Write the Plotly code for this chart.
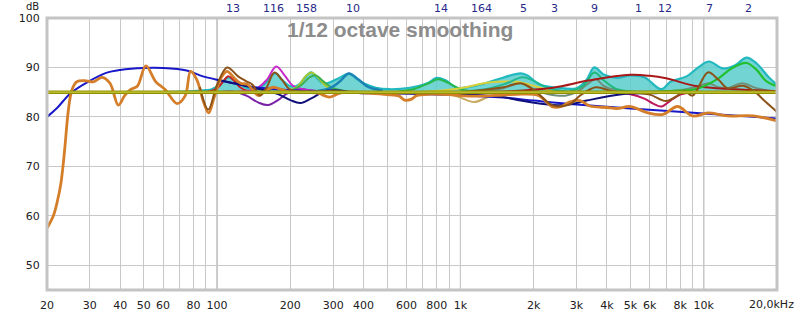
import plotly.graph_objects as go
import math

# ---------------- data ----------------
# measured response
meas_f = [20, 21.2, 22, 22.8, 23.3, 23.7, 24.5, 25.3, 26.5, 29, 31, 33.7, 36.3, 39.3, 41.7, 44.3, 47,
          51, 56, 61, 68.5, 74, 77.8, 82.6, 88, 92.3, 96.9, 100.6, 105, 110, 118, 125, 133, 140, 148,
          158, 170, 185, 200, 230, 260, 290, 320, 360, 420, 500, 560, 590, 630, 660, 750, 900, 1000,
          1200, 1500, 1800, 2100, 2400, 2600, 2800, 3100, 3400, 4000, 4400, 5000, 5900, 6800, 7800,
          9000, 10400, 12500, 16000, 20000]
meas_db = [57.5, 59.9, 62.7, 66.5, 70.3, 74.0, 81.5, 85.4, 87.1, 87.3, 87.1, 88.0, 86.8, 82.4, 84.3, 85.6, 86.2,
           90.3, 87.1, 85.6, 82.7, 84.3, 89.2, 87.5, 83.0, 80.8, 83.7, 86.2, 88.3, 89.2, 87.8, 86.8, 86.6, 85.5, 84.3,
           85.3, 86.0, 85.5, 85.0, 85.0, 84.8, 84.0, 84.8, 85.0, 84.8, 84.5, 84.2, 83.4, 83.6, 84.3, 84.6, 84.5, 84.3,
           84.2, 84.4, 84.6, 84.3, 82.0, 82.1, 83.0, 83.3, 82.2, 81.9, 81.7, 82.1, 80.8, 80.5, 82.1,
           80.2, 80.8, 80.2, 80.2, 79.2]

# predicted response
pred_f = [85, 92, 100, 110, 122, 132, 140, 150, 160, 172, 185, 200, 300, 600, 1000, 1500, 1770, 2000,
          2400, 2800, 3100, 3600, 4200, 5000, 6000, 7000, 7800, 8300, 9000, 10400, 11500, 12500,
          14500, 16000, 18000, 20000]
pred_db = [86.0, 81.5, 86.5, 90.0, 88.2, 87.2, 86.5, 84.3, 86.0, 89.0, 87.5, 85.5, 85.2, 84.8, 85.0, 86.0, 86.8, 85.5,
           82.3, 82.5, 84.3, 86.0, 85.2, 85.0, 84.5, 83.2, 84.3, 85.2, 84.3, 89.0, 87.5, 85.8,
           86.3, 85.3, 83.0, 81.0]

# house curve
house_f = [20, 22, 25, 30, 35, 40, 50, 60, 75, 85, 100, 125, 150, 200, 300, 500, 1000, 1500, 2000,
           3000, 5000, 10000, 20000]
house_db = [80.0, 81.8, 84.8, 87.3, 88.9, 89.5, 89.9, 89.9, 89.4, 88.4, 87.5, 86.5, 85.9, 85.4, 85.0, 84.8,
            84.4, 83.9, 83.3, 82.5, 81.7, 80.7, 79.7]

# filter-corrected house curve
corr_f = [100, 125, 150, 180, 200, 220, 245, 283, 400, 600, 1000, 1500, 1770, 2400, 2800, 3300, 4600,
          6300, 9000, 20000]
corr_db = [87.5, 86.5, 85.6, 84.5, 83.4, 82.8, 83.8, 85.3, 84.8, 84.9, 84.6, 84.0, 83.3, 82.4, 82.5, 83.3,
           84.6, 84.8, 85.0, 85.0]

# target level
target_level = 85.0
freq_min, freq_max = 20, 20000

# combined filter response
filt_f = [60, 80, 90, 95, 103, 111, 120, 132, 145, 158, 168, 175, 185, 200, 215, 230, 243, 258, 270,
          283, 310, 348, 380, 400, 450, 510, 620, 730, 800, 870, 970, 1200, 1400, 1770, 1900, 2100,
          2500, 3000, 3300, 3550, 3900, 4400, 5000, 5700, 6700, 7300, 8500, 9500, 10500, 12000,
          13500, 15000, 16500, 18500, 20000]
filt_db = [85.0, 85.2, 85.4, 85.6, 86.5, 88.0, 87.2, 85.9, 85.6, 86.8, 88.5, 88.8, 87.5, 86.2, 86.4, 88.0, 89.0, 87.8, 86.9,
           86.8, 87.6, 88.7, 87.5, 86.8, 85.9, 85.6, 85.9, 86.8, 87.9, 87.4, 85.9, 86.5, 87.5, 88.8, 88.3, 86.6,
           85.9, 85.8, 87.5, 90.0, 88.5, 87.9, 88.4, 88.0, 85.6, 87.1, 88.2, 90.0, 91.2, 89.8,
           90.5, 92.0, 90.8, 88.0, 86.5]

# individual filters
f13_f = [90, 100, 106, 111, 117, 125, 135, 150]
f13_db = [85.0, 85.8, 87.2, 88.2, 87.4, 85.9, 85.2, 85.0]
f11_f = [120, 145, 160, 175, 190, 205, 230, 270]
f11_db = [85.1, 85.7, 87.5, 90.2, 88.3, 86.3, 85.5, 85.2]
f6_f = [100, 118, 132, 148, 162, 178, 195, 215, 240, 280]
f6_db = [85.0, 85.1, 84.3, 82.9, 82.4, 83.4, 84.8, 85.7, 85.4, 85.1]
f15_f = [190, 215, 232, 245, 260, 285, 320]
f15_db = [85.1, 86.2, 88.3, 89.0, 87.9, 86.0, 85.3]
f8_f = [195, 220, 240, 255, 270, 300, 340]
f8_db = [85.1, 86.3, 88.0, 88.4, 87.4, 85.8, 85.2]
f10_f = [250, 290, 320, 348, 380, 420, 480]
f10_db = [85.1, 85.8, 87.2, 88.8, 87.6, 86.0, 85.3]
f14_f = [550, 650, 740, 810, 880, 1000, 1150]
f14_db = [85.1, 85.7, 86.8, 87.6, 87.0, 85.6, 85.1]
f16_f = [700, 900, 1050, 1250, 1400, 1700, 2000, 2400, 2800]
f16_db = [85.1, 85.5, 86.0, 86.8, 87.1, 87.1, 86.3, 85.2, 85.0]
f4_f = [700, 900, 1000, 1140, 1280, 1450, 1800]
f4_db = [85.0, 84.6, 83.9, 83.0, 83.9, 84.8, 85.0]
f5_f = [1000, 1300, 1550, 1800, 2000, 2300, 2800]
f5_db = [85.1, 85.7, 86.8, 88.0, 87.3, 85.8, 85.1]
f9_f = [2800, 3200, 3550, 3900, 4400, 5200]
f9_db = [85.1, 86.3, 89.0, 87.3, 85.6, 85.1]
f1_f = [1000, 1600, 2400, 3400, 5000, 6000, 7000, 9400, 13400, 20000]
f1_db = [85.0, 85.2, 85.9, 87.4, 88.5, 88.3, 87.8, 86.2, 85.6, 85.2]
f12_f = [4000, 5000, 5700, 6200, 6700, 7300, 8000, 8800]
f12_db = [85.0, 84.6, 83.7, 82.7, 82.1, 83.3, 84.5, 85.0]
f2_f = [6000, 8000, 9400, 11500, 13000, 15000, 16500, 18000, 20000]
f2_db = [85.0, 85.3, 85.7, 87.8, 89.8, 90.9, 89.5, 87.3, 86.2]
resid_f = [1200, 1500, 1770, 2000, 2300, 2700, 3000, 3300, 3600, 3900, 4500, 8000, 9500, 10400,
           11500, 12500, 14400, 16500, 20000]
resid_db = [85.0, 85.8, 86.8, 85.5, 84.6, 84.3, 85.0, 86.5, 87.6, 86.2, 85.3, 85.4, 86.2, 86.8,
            86.0, 85.8, 86.8, 85.8, 85.0]

# tick labels
y_ticks = [50, 60, 70, 80, 90, 100]
x_ticks = [20, 30, 40, 50, 60, 80, 100, 200, 300, 400, 600, 800, 1000, 2000, 3000, 4000, 5000, 6000, 8000, 10000]
x_tick_text = ["20", "30", "40", "50", "60", "80", "100", "200", "300", "400", "600", "800", "1k",
               "2k", "3k", "4k", "5k", "6k", "8k", "10k"]
x_minor = [70, 90, 500, 700, 900, 7000, 9000]
decades = [100, 1000, 10000]

# filter numbers shown along the top
filter_labels = ["13", "116", "158", "10", "14", "164", "5", "3", "9", "1", "12", "7", "2"]
filter_label_f = [116.5, 170, 233, 363, 836, 1222, 1819, 2440, 3566, 5408, 6920, 10600, 15200]

title_text = "1/12 octave smoothing"

# ---------------- figure ----------------
fig = go.Figure()


def add_line(xs, ys, color, width=2.0, smoothing=1.0, **kw):
    fig.add_trace(go.Scatter(x=xs, y=ys, mode="lines",
                             line=dict(color=color, width=width, shape="spline", smoothing=smoothing),
                             hoverinfo="skip", showlegend=False, **kw))


# filled combined filter response above the target level
fig.add_trace(go.Scatter(x=[filt_f[0], filt_f[-1]], y=[target_level, target_level], mode="lines",
                         line=dict(width=0, color="rgba(0,0,0,0)"), hoverinfo="skip", showlegend=False))
add_line(filt_f, filt_db, "#22b8c0", 2.2, fill="tonexty", fillcolor="rgba(90,205,205,0.85)")

# individual filters
add_line(resid_f, resid_db, "#6f8f7a", 2.0)
add_line(f13_f, f13_db, "#c81e28", 2.0)
add_line(f6_f, f6_db, "#7a22a8", 2.0)
add_line(f11_f, f11_db, "#c828c8", 2.0)
add_line(f15_f, f15_db, "#a8c830", 2.0)
add_line(f8_f, f8_db, "#3cb050", 2.0)
add_line(f10_f, f10_db, "#1a84b4", 2.5)
add_line(f14_f, f14_db, "#28b848", 2.0)
add_line(f16_f, f16_db, "#d8d038", 2.0)
add_line(f4_f, f4_db, "#c8aa60", 2.0)
add_line(f5_f, f5_db, "#22b890", 2.0)
add_line(f9_f, f9_db, "#20b878", 2.0)
add_line(f1_f, f1_db, "#a81818", 2.0)
add_line(f12_f, f12_db, "#c0185c", 2.0)
add_line(f2_f, f2_db, "#22c030", 2.2)

# house curves
add_line(house_f, house_db, "#1818c8", 2.0)
add_line(corr_f, corr_db, "#10107a", 2.0)

# measurement and prediction
add_line(meas_f, meas_db, "#d47e2a", 2.8)
add_line(pred_f, pred_db, "#8c5218", 2.0)

# target level line
fig.add_trace(go.Scatter(x=[freq_min, freq_max], y=[target_level, target_level], mode="lines",
                         line=dict(color="#8f8f00", width=3.5), hoverinfo="skip", showlegend=False))
fig.add_trace(go.Scatter(x=[freq_min, freq_max], y=[target_level, target_level], mode="lines",
                         line=dict(color="#c8c83c", width=1.2), hoverinfo="skip", showlegend=False))

tick_font = dict(family="DejaVu Sans", size=11, color="#202020")

fig.update_xaxes(type="log", range=[math.log10(freq_min), math.log10(freq_max)],
                 tickvals=x_ticks, ticktext=x_tick_text, tickfont=tick_font,
                 ticks="outside", ticklen=5, tickcolor="rgba(0,0,0,0)",
                 showgrid=True, gridcolor="#c8c8c8", gridwidth=1, zeroline=False,
                 minor=dict(tickvals=x_minor, showgrid=True, gridcolor="#c8c8c8", gridwidth=1, ticks=""),
                 showline=False)
fig.update_yaxes(range=[45, 100], tickvals=y_ticks, tickfont=tick_font,
                 ticks="outside", ticklen=4, tickcolor="rgba(0,0,0,0)",
                 showgrid=True, gridcolor="#c8c8c8", gridwidth=1, zeroline=False, showline=False)

shapes = []
for d in decades:
    shapes.append(dict(type="line", xref="x", yref="paper", x0=d, x1=d, y0=0, y1=1,
                       line=dict(color="#8a8a8a", width=1), layer="below"))
shapes.append(dict(type="rect", xref="paper", yref="paper", x0=0, x1=1, y0=0, y1=1,
                   line=dict(color="#c4c4c4", width=3), layer="above"))

annotations = []
for lab, f in zip(filter_labels, filter_label_f):
    annotations.append(dict(x=math.log10(f), y=1, xref="x", yref="paper", text=lab, showarrow=False,
                            yanchor="middle", yshift=10,
                            font=dict(family="DejaVu Sans", size=11, color="#282888")))
annotations.append(dict(x=math.log10(freq_max), y=0, xref="x", yref="paper", text="20,0kHz",
                        showarrow=False, yanchor="top", xanchor="center", xshift=-6, yshift=-6,
                        font=tick_font))
annotations.append(dict(x=0, y=1, xref="paper", yref="paper", text="dB", showarrow=False,
                        xanchor="center", yanchor="middle", xshift=-15, yshift=12,
                        font=dict(family="DejaVu Sans", size=10, color="#202020")))
annotations.append(dict(x=(400 - 47) / 730, y=(303 - 26) / 289, xref="paper", yref="paper",
                        text="<b>" + title_text + "</b>", showarrow=False,
                        xanchor="center", yanchor="middle",
                        font=dict(family="Liberation Sans", size=21, color="#8c8c8c")))

fig.update_layout(width=800, height=324, margin=dict(l=47, r=23, t=14, b=21),
                  paper_bgcolor="white", plot_bgcolor="white",
                  shapes=shapes, annotations=annotations, showlegend=False)

fig.write_html("out.html")
